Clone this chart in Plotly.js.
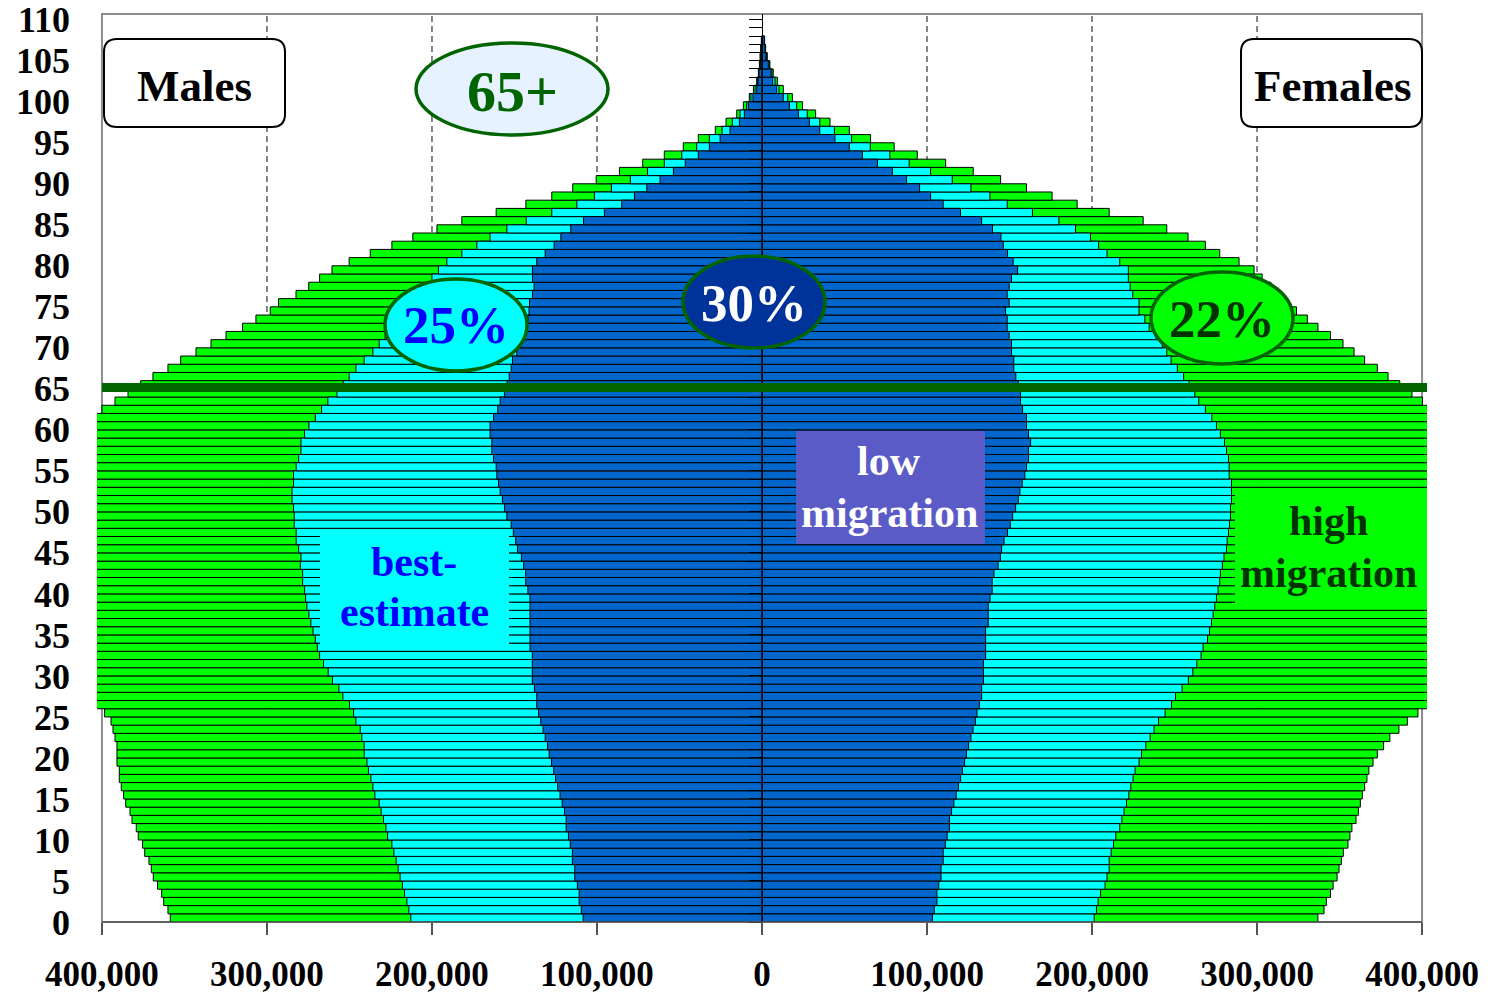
<!DOCTYPE html>
<html><head><meta charset="utf-8">
<script src="https://cdn.plot.ly/plotly-3.0.1.min.js"></script>
<style>html,body{margin:0;padding:0;background:#fff}#chart{width:1495px;height:994px}</style>
</head><body><div id="chart"></div>
<script>
// Ages (single years), one bar per age, ages 0..107
const ages = Array.from({length: 108}, (_, i) => i);

// Population in thousands
const maleHigh = [
358.6,360.0,362.6,363.8,366.3,368.9,370.1,371.5,374.1,375.4,
378.0,379.2,381.8,383.0,385.6,386.9,388.3,389.5,389.5,390.9,
390.9,390.9,392.1,393.3,394.5,398.4,404,408,411,415,
418,421,424,426,428,430,432,433,434,435,
436,437,438,439,440,441,441,442,442,443,
443,443,442,442,441,440,438,436,433,428,
420,411,400.0,392.1,384.2,376.5,369.1,360.0,352.3,343.0,
333.9,324.8,314.8,306.7,298.0,293.0,282.4,274.7,268.1,260.6,
250.2,237.4,224.3,211.6,197.0,181.9,161.1,143.1,127.4,114.7,
100.5,86.4,72.3,59.2,47.7,38.6,28.3,21.8,15.3,11.3,
7.7,5.2,3.2,2.2,1.6,1.2,0.8,0.4];
const maleBest = [
212.8,214.0,215.2,216.6,217.9,219.3,220.5,221.7,223.1,224.3,
226.9,227.9,229.4,230.8,232.0,234.6,235.8,237.0,238.5,239.4,
241.1,241.1,242.5,243.5,246.1,247.5,250.0,254.0,256.4,260.3,
262.9,265.7,268.1,269.5,270.7,272.1,273.4,274.6,275.8,276.6,
277.2,278.4,278.4,279.8,279.4,280.8,282.3,282.3,283.5,283.5,
283.9,284.8,284.8,283.9,283.9,282.3,280.8,279.4,279.4,277.2,
274.6,270.7,266.9,263.1,257.6,253.8,250.2,246.1,241.1,235.8,
232.0,228.4,224.9,220.7,216.3,212.2,207.8,203.9,200.0,196.1,
191.0,181.9,172.8,164.8,154.6,142.9,127.4,112.2,101.6,91.3,
79.8,69.4,59.2,48.6,39.6,31.9,24.2,18.0,13.3,9.3,
6.7,4.2,2.8,2.0,1.2,0.8,0.6,0.3];
const maleLow = [
108.4,109.5,110.8,110.8,111.9,113.5,113.5,114.9,114.9,116.2,
117.3,118.7,118.7,119.7,121.1,122.4,123.8,125.1,126.2,127.6,
129.0,130.0,131.4,132.7,134.1,135.4,136.5,136.5,137.9,139.2,
139.2,139.2,139.2,140.6,140.6,140.6,140.6,140.6,140.6,140.6,
141.9,143.2,143.2,144.4,145.8,148.2,149.3,150.7,152.0,154.6,
156.0,157.3,158.7,159.7,160.7,161.1,162.7,163.7,163.7,164.8,
164.8,162.7,160.1,158.7,156.1,154.5,153.2,152.0,151.2,148.6,
148.2,147.6,146.6,141.8,141.2,140.9,139.1,138.1,139.1,139.1,
136.5,131.4,126.0,121.9,115.9,108.2,95.5,85.0,77.3,69.8,
61.8,53.7,46.5,38.6,31.9,25.4,19.4,13.7,10.7,8.3,
5.5,3.2,2.4,1.8,0.8,0.4,0.3,0.2];
const femaleHigh = [
336.9,340.6,342.0,344.5,346.1,348.5,349.7,351.1,352.3,355.1,
356.3,357.5,360.0,361.4,362.6,363.8,365.2,366.6,367.8,370.3,
372.9,376.7,380.5,386.0,391.1,397.5,404,408,412,416,
419,422,425,427,429,431,433,434,435,436,
437,438,439,440,441,441,442,442,443,443,
443,443,442,442,441,440,438,436,433,429,
423,416,408,400.2,393.9,386.5,379.4,372.9,365.2,358.8,
352.1,344.5,336.9,330.5,323.9,318.6,313.2,308.4,303.1,298.2,
289.1,277.4,268.7,258.2,245.3,231.0,210.4,191.0,175.8,160.3,
144.6,128.0,111.3,94.1,80.1,65.8,52.9,41.2,32.5,24.6,
18.4,12.9,9.3,6.8,4.8,3.2,2.2,1.6];
const femaleBest = [
201.3,202.7,203.7,205.2,207.9,209.1,210.4,210.4,211.6,213.0,
214.4,216.8,218.1,219.4,220.9,222.3,223.5,224.9,226.1,228.5,
230.0,232.6,235.2,237.6,240.3,244.3,248.2,250.6,254.6,258.4,
261.1,263.5,266.1,267.3,270.0,271.2,272.4,273.4,274.4,275.4,
276.4,277.4,277.8,279.0,280.0,281.5,281.9,282.7,283.3,283.9,
283.9,284.5,284.5,284.5,283.1,283.1,282.7,281.5,280.3,277.8,
275.4,272.6,268.7,264.7,262.3,258.8,255.5,251.7,247.9,245.3,
242.6,238.9,234.6,232.0,228.5,228.5,224.7,223.1,222.0,222.0,
216.8,209.1,204.0,199.1,190.0,179.9,163.9,148.6,138.1,126.6,
115.3,102.2,89.2,77.5,65.6,54.3,43.9,35.0,27.4,21.0,
15.6,10.3,7.9,6.0,4.4,2.8,2.0,1.5];
const femaleLow = [
103.3,104.4,106.0,106.0,107.1,108.5,108.5,109.8,109.8,111.1,
112.2,113.6,113.6,114.9,116.3,117.7,119.0,120.4,121.4,122.8,
123.9,125.2,126.6,127.9,129.3,130.3,131.7,133.1,133.1,134.2,
134.2,134.2,135.5,135.5,135.5,135.5,137.1,137.1,137.1,138.2,
139.5,139.5,140.6,143.1,144.5,145.2,146.7,148.8,150.5,151.9,
153.7,155.3,156.3,157.7,159.3,160.3,161.5,161.5,162.8,161.5,
160.3,160.3,157.9,156.7,156.7,155.3,153.8,152.6,152.6,151.2,
151.2,149.8,148.6,148.6,147.6,149.8,148.6,149.8,151.2,154.9,
152.2,148.8,146.2,144.8,139.7,133.1,120.3,109.8,102.2,95.5,
87.6,79.0,70.0,60.8,52.9,44.2,35.0,28.7,22.0,16.6,
12.9,8.9,6.5,5.5,3.8,2.4,1.8,1.4];

const xTickVals = [-400000,-300000,-200000,-100000,0,100000,200000,300000,400000];
const xTickText = ['400,000','300,000','200,000','100,000','0','100,000','200,000','300,000','400,000'];
const yTickVals = [0,5,10,15,20,25,30,35,40,45,50,55,60,65,70,75,80,85,90,95,100,105,110];

const UNIT = 1000;
const FONT = 'Liberation Serif, Times New Roman, serif';
const GREEN = '#00ff00', CYAN = '#00ffff', BLUE = '#0066cc', DKGREEN = '#006400';

function bar(vals, sign, color) {
  return {
    type: 'bar', orientation: 'h',
    x: vals.map(v => sign * v * UNIT), y: ages,
    width: 1, offset: 0,
    marker: {color: color, line: {color: '#000', width: 1}},
    hoverinfo: 'skip', showlegend: false
  };
}

const traces = [
  bar(maleHigh, -1, GREEN), bar(femaleHigh, 1, GREEN),
  bar(maleBest, -1, CYAN), bar(femaleBest, 1, CYAN),
  bar(maleLow, -1, BLUE), bar(femaleLow, 1, BLUE),
  {type: 'scatter', x: [0], y: [0], yaxis: 'y2', mode: 'markers',
   marker: {opacity: 0}, hoverinfo: 'skip', showlegend: false}
];

// pixel -> paper helpers for decorations
const L = 97, W = 1330, T = 14, H = 908;
const PX = p => (p - L) / W;
const PY = p => (T + H - p) / H;

function rrect(x0, y0, x1, y1, r) {
  const P = (x, y) => PX(x) + ',' + PY(y);
  return 'M' + P(x0 + r, y0) + ' L' + P(x1 - r, y0) + ' Q' + P(x1, y0) + ' ' + P(x1, y0 + r) +
    ' L' + P(x1, y1 - r) + ' Q' + P(x1, y1) + ' ' + P(x1 - r, y1) +
    ' L' + P(x0 + r, y1) + ' Q' + P(x0, y1) + ' ' + P(x0, y1 - r) +
    ' L' + P(x0, y0 + r) + ' Q' + P(x0, y0) + ' ' + P(x0 + r, y0) + ' Z';
}
function ellipse(cx, cy, rx, ry, fill) {
  return {type: 'circle', xref: 'paper', yref: 'paper',
    x0: PX(cx - rx), x1: PX(cx + rx), y0: PY(cy + ry), y1: PY(cy - ry),
    fillcolor: fill, line: {color: DKGREEN, width: 3.5}, layer: 'above'};
}
function box(x0, y0, x1, y1, fill) {
  return {type: 'rect', xref: 'paper', yref: 'paper',
    x0: PX(x0), x1: PX(x1), y0: PY(y1), y1: PY(y0),
    fillcolor: fill, line: {width: 0}, layer: 'above'};
}
function label(text, cx, cy, size, color) {
  return {xref: 'paper', yref: 'paper', x: PX(cx), y: PY(cy), text: text,
    showarrow: false, xanchor: 'center', yanchor: 'middle',
    font: {family: FONT, size: size, color: color, weight: 700}};
}

const shapes = [];
[-300000, -200000, -100000, 100000, 200000, 300000].forEach(v => shapes.push({
  type: 'line', xref: 'x', yref: 'paper', x0: v, x1: v, y0: 0, y1: 1,
  line: {color: '#444', width: 1.3, dash: '6px,4px'}, layer: 'below'}));
shapes.push({type: 'rect', xref: 'x', yref: 'paper', x0: -400000, x1: 400000, y0: 0, y1: 1,
  line: {color: '#8c8c8c', width: 2}, layer: 'below'});
shapes.push({type: 'line', xref: 'x', yref: 'paper', x0: -400000, x1: 400000, y0: 0, y1: 0,
  line: {color: '#555', width: 1.5}, layer: 'above'});
shapes.push({type: 'line', xref: 'x', yref: 'y', x0: -400000, x1: 403000, y0: 65.15, y1: 65.15,
  line: {color: DKGREEN, width: 9}, layer: 'above'});
shapes.push({type: 'path', xref: 'paper', yref: 'paper', path: rrect(104, 39, 285, 127, 13),
  fillcolor: '#fff', line: {color: '#000', width: 2}, layer: 'above'});
shapes.push({type: 'path', xref: 'paper', yref: 'paper', path: rrect(1241, 39, 1422, 127, 13),
  fillcolor: '#fff', line: {color: '#000', width: 2}, layer: 'above'});
shapes.push(ellipse(512, 89, 96, 46, '#e6f2ff'));
shapes.push(ellipse(754, 302, 71, 46, '#003399'));
shapes.push(ellipse(456, 325, 71, 46, CYAN));
shapes.push(ellipse(1222, 318, 71, 46, GREEN));
shapes.push(box(320, 530, 509, 645, CYAN));
shapes.push(box(796, 431, 985, 544, '#5b5bc8'));
shapes.push(box(1235, 489, 1427, 603, GREEN));

const annotations = [
  label('Males', 194, 86, 45, '#000'),
  label('Females', 1332, 86, 45, '#000'),
  label('65+', 512, 91, 58, DKGREEN),
  label('30%', 754, 303, 53, '#fff'),
  label('25%', 456, 325, 53, '#0000ff'),
  label('22%', 1222, 319, 53, '#003300'),
  label('best-', 414, 562, 42, '#0000ff'),
  label('estimate', 414, 612, 42, '#0000ff'),
  label('low', 889, 461, 42, '#fff'),
  label('migration', 889, 513, 42, '#fff'),
  label('high', 1328, 521, 42, '#003300'),
  label('migration', 1328, 573, 42, '#003300')
];

const layout = {
  width: 1495, height: 994,
  margin: {l: L, r: 1495 - L - W, t: T, b: 994 - T - H, pad: 0},
  paper_bgcolor: '#fff', plot_bgcolor: 'rgba(0,0,0,0)',
  barmode: 'overlay', bargap: 0,
  font: {family: FONT, color: '#000'},
  showlegend: false,
  xaxis: {range: [-403000, 403000], tickmode: 'array', tickvals: xTickVals, ticktext: xTickText,
    ticks: 'outside', ticklen: 12, tickwidth: 1.5, tickcolor: '#555', ticklabelstandoff: 9,
    showgrid: false, zeroline: false, showline: false, fixedrange: true,
    tickfont: {family: FONT, size: 35, color: '#000', weight: 700}},
  yaxis: {range: [0, 110.7], tickmode: 'array', tickvals: yTickVals, ticks: '',
    ticklabelstandoff: 26, showgrid: false, zeroline: false, showline: false, fixedrange: true,
    tickfont: {family: FONT, size: 36, color: '#000', weight: 700}},
  yaxis2: {overlaying: 'y', anchor: 'free', position: 0.5, side: 'left', range: [0, 110.7],
    tickmode: 'linear', tick0: 0, dtick: 1, ticks: 'outside', ticklen: 13, tickwidth: 1,
    tickcolor: '#000', showticklabels: false, showline: true, linecolor: '#000', linewidth: 1.3,
    showgrid: false, zeroline: false, fixedrange: true},
  shapes: shapes,
  annotations: annotations
};

Plotly.newPlot('chart', traces, layout, {displayModeBar: false, staticPlot: true});
</script>
</body></html>
